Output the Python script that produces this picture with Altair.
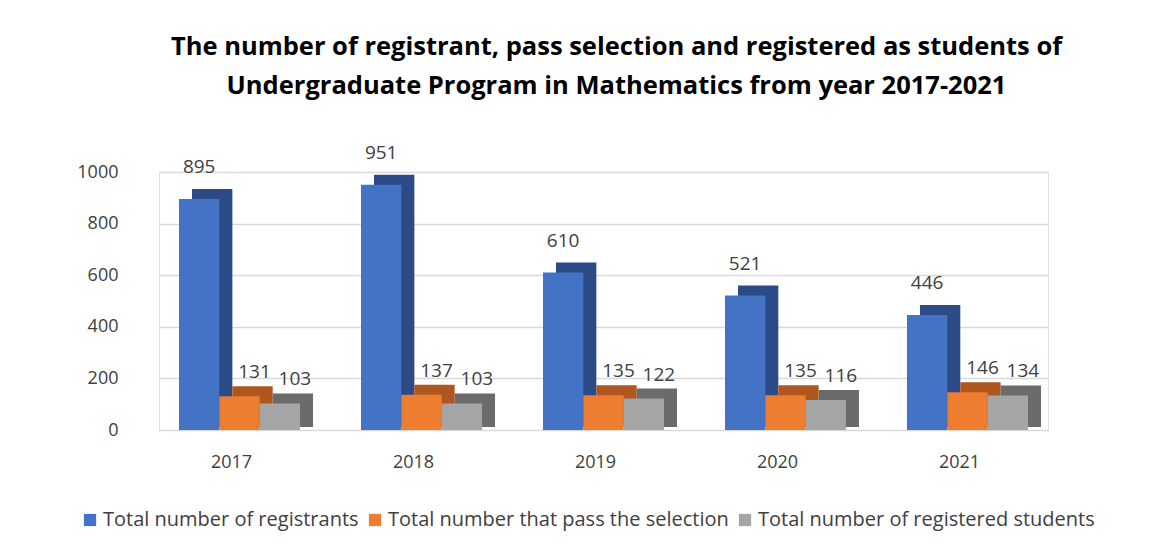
import altair as alt
import pandas as pd

years = ["2017", "2018", "2019", "2020", "2021"]
series = ["Total number of registrants", "Total number that pass the selection", "Total  number of registered students"]
registrants = [895, 951, 610, 521, 446]
passed = [131, 137, 135, 135, 146]
registered = [103, 103, 122, 116, 134]
y_ticks = [0, 200, 400, 600, 800, 1000]
title_lines = ["The  number of registrant, pass selection and registered as students  of",
               "Undergraduate Program in Mathematics from year 2017-2021"]

front_colors = ["#4472C4", "#ED7D31", "#A5A5A5"]
side_colors = ["#2C4A86", "#B0561F", "#6B6B6B"]

rows = []
for vals, s in zip([registrants, passed, registered], series):
    for y, v in zip(years, vals):
        rows.append({"year": y, "series": s, "value": v})
df = pd.DataFrame(rows)

FONT = "Open Sans"
W = 889
PI, PO = 0.335, 0.11
STEP = W / (len(years) - PI + 2 * PO)
BW = STEP * (1 - PI)
DEPTH_X = 13

x_enc = alt.X("year:N", sort=years,
              scale=alt.Scale(paddingInner=PI, paddingOuter=PO),
              axis=alt.Axis(title=None, labelAngle=0, labelFontSize=18, labelColor="#404040",
                            labelFont=FONT, ticks=False, domain=False, labelPadding=23,
                            labelOffset=-8))
xo_front = alt.XOffset("series:N", sort=series,
                       scale=alt.Scale(paddingInner=0, paddingOuter=0, range=[0, BW]))
xo_back = alt.XOffset("series:N", sort=series,
                      scale=alt.Scale(paddingInner=0, paddingOuter=0,
                                      range=[DEPTH_X, BW + DEPTH_X]))
y_axis = alt.Axis(title=None, values=y_ticks, format="d", labelFontSize=18,
                  labelColor="#404040", labelFont=FONT, ticks=False, domain=False,
                  labelPadding=41, gridColor="#D9D9D9", gridWidth=1.5)
y_enc = alt.Y("value:Q", scale=alt.Scale(domain=[0, 1000]), axis=y_axis)
y_back = alt.Y("value:Q", scale=alt.Scale(domain=[0, 1000]), axis=y_axis, stack=None)

base = alt.Chart(df)

back = base.mark_bar(yOffset=-10, y2Offset=-3).encode(
    x=x_enc, xOffset=xo_back, y=y_back, y2=alt.datum(0),
    color=alt.Color("series:N", sort=series,
                    scale=alt.Scale(domain=series, range=side_colors), legend=None),
)

front = base.mark_bar().encode(
    x=x_enc, xOffset=xo_front, y=y_enc,
    color=alt.Color("series:N", sort=series,
                    scale=alt.Scale(domain=series, range=front_colors),
                    legend=alt.Legend(title=None, orient="none", direction="horizontal",
                                      legendX=-79, legendY=338, symbolType="square",
                                      symbolSize=150, symbolStrokeWidth=0,
                                      labelFontSize=20, labelFont=FONT, labelColor="#404040",
                                      columnPadding=6, symbolOffset=0, labelOffset=3,
                                      labelLimit=400)),
)

text_blue = base.mark_text(dy=-22, dx=0, fontSize=19, font=FONT, color="#404040",
                           baseline="bottom").encode(
    x=x_enc, xOffset=xo_front, y=y_enc, text="value:Q"
).transform_filter(alt.datum.series == series[0])

text_other = base.mark_text(dy=-14, dx=15, fontSize=19, font=FONT, color="#404040",
                            baseline="bottom").encode(
    x=x_enc, xOffset=xo_front, y=y_enc, text="value:Q"
).transform_filter(alt.datum.series != series[0])

inner = alt.layer(front, text_blue, text_other)

chart = alt.layer(back, inner).resolve_scale(
    color="independent", xOffset="independent"
).properties(
    width=W, height=258,
    title=alt.Title(title_lines, fontSize=25.5, font=FONT, fontWeight="bold", color="#000000",
                    anchor="middle", lineHeight=39, offset=44, dx=13),
    padding={"left": 68, "right": 5, "top": 27, "bottom": 5},
).configure_view(stroke=None).configure(background="white")

chart.save("out.html", embed_options={"renderer": "svg", "actions": False})
